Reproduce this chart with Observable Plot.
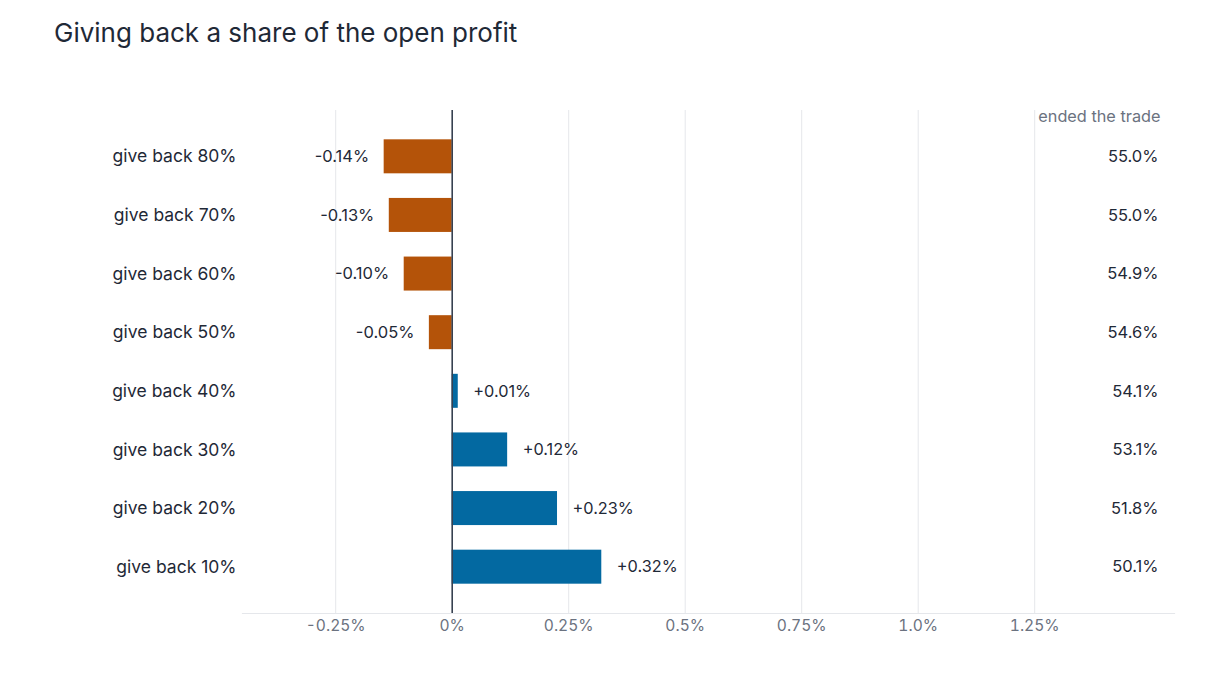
<!DOCTYPE html>
<html>
<head>
<meta charset="utf-8">
<script src="https://cdn.jsdelivr.net/npm/d3@7"></script>
<script src="https://cdn.jsdelivr.net/npm/@observablehq/plot@0.6"></script>
<style>
  html, body { margin: 0; padding: 0; background: #fff; }
  body { width: 1210px; height: 682px; overflow: hidden; font-family: Inter, sans-serif; }
  #title { height: 60px; box-sizing: border-box; padding: 19px 0 0 54px; font-size: 26px; line-height: 28px; color: #1f2937; font-weight: 400; }
  #chart svg { display: block; }
</style>
</head>
<body>
<div id="title">Giving back a share of the open profit</div>
<div id="chart"></div>
<script>
const categories = ["give back 80%", "give back 70%", "give back 60%", "give back 50%", "give back 40%", "give back 30%", "give back 20%", "give back 10%"];
const changes = [-0.146, -0.135, -0.103, -0.049, 0.013, 0.119, 0.226, 0.321];
const changeLabels = ["-0.14%", "-0.13%", "-0.10%", "-0.05%", "+0.01%", "+0.12%", "+0.23%", "+0.32%"];
const endedTrade = ["55.0%", "55.0%", "54.9%", "54.6%", "54.1%", "53.1%", "51.8%", "50.1%"];
const xTicks = [-0.25, 0, 0.25, 0.5, 0.75, 1.0, 1.25];
const xTickLabels = ["-0.25%", "0%", "0.25%", "0.5%", "0.75%", "1.0%", "1.25%"];
const columnHeader = "ended the trade";

const data = categories.map((c, i) => ({
  cat: c, value: changes[i], label: changeLabels[i], ended: endedTrade[i]
}));
const pos = data.filter(d => d.value >= 0);
const neg = data.filter(d => d.value < 0);

const chart = Plot.plot({
  width: 1210,
  height: 622,
  marginTop: 50,
  marginBottom: 69,
  marginLeft: 242,
  marginRight: 36,
  style: { fontFamily: "Inter, sans-serif", background: "#fff" },
  x: { domain: [-0.45, 1.55], label: null },
  y: { domain: categories, paddingInner: 0.42, paddingOuter: 0.5, round: false, label: null },
  marks: [
    Plot.gridX(xTicks.filter(t => t !== 0), { stroke: "#e5e7eb", strokeOpacity: 1, strokeWidth: 1 }),
    Plot.frame({ anchor: "bottom", stroke: "#e5e7eb", strokeWidth: 1.2 }),
    Plot.axisX({ ticks: xTicks, tickFormat: d => xTickLabels[xTicks.indexOf(d)], tickSize: 0, tickPadding: 6, fontSize: 15.6, color: "#6b7280", label: null }),
    Plot.axisY({ tickSize: 0, tickPadding: 6, fontSize: 17.5, color: "#1f2937", label: null }),
    Plot.barX(data, { x: "value", y: "cat", fill: d => d.value < 0 ? "#b45309" : "#0369a1" }),
    Plot.ruleX([0], { stroke: "#374151", strokeWidth: 1.6 }),
    Plot.text(neg, { x: "value", y: "cat", text: "label", textAnchor: "end", dx: -15, fontSize: 16.5, fill: "#1f2937" }),
    Plot.text(pos, { x: "value", y: "cat", text: "label", textAnchor: "start", dx: 15, fontSize: 16.3, fill: "#1f2937" }),
    Plot.text(data, { y: "cat", text: "ended", frameAnchor: "right", textAnchor: "end", dx: -16, fontSize: 16.5, fill: "#1f2937" }),
    Plot.text([columnHeader], { text: d => d, frameAnchor: "top-right", textAnchor: "end", lineAnchor: "middle", dx: -14, dy: 6, fontSize: 16.3, fill: "#6b7280" })
  ]
});
document.getElementById("chart").appendChild(chart);
</script>
</body>
</html>
